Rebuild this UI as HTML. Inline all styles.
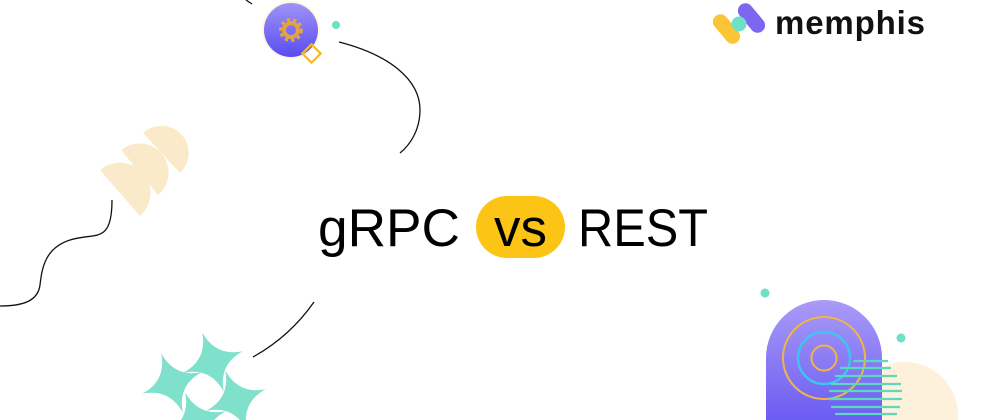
<!DOCTYPE html>
<html><head><style>
html,body{margin:0;padding:0;background:#fff;overflow:hidden;width:1000px;height:420px;}
svg{display:block}
</style></head><body>
<svg width="1000" height="420" viewBox="0 0 1000 420" xmlns="http://www.w3.org/2000/svg">
<defs>
<linearGradient id="pg" x1="0" y1="0" x2="0" y2="1"><stop offset="0" stop-color="#a99bf7"/><stop offset="1" stop-color="#6b5cf2"/></linearGradient>
<linearGradient id="cg" x1="0" y1="0" x2="0" y2="1"><stop offset="0" stop-color="#9f93f8"/><stop offset="1" stop-color="#5a4cf0"/></linearGradient>
<clipPath id="fr"><rect width="1000" height="420"/></clipPath>
<path id="st" d="M0 -30 Q4 -4 30 0 Q4 4 0 30 Q-4 4 -30 0 Q-4 -4 0 -30Z"/>
</defs>
<g clip-path="url(#fr)">
<g fill="none" stroke="#111" stroke-width="1.3">
<path d="M246 0 L252 4"/>
<path d="M339 42 C390 55 420 80 420 110 C420 130 410 145 400 153"/>
<path d="M112 200 C112 245 95 232 70 240 C45 248 42 268 40 285 C38 300 25 306 0 306"/>
<path d="M314 302 C300 322 280 342 253 357"/>
</g>
<circle cx="291" cy="30" r="29" fill="#fff6e0"/>
<circle cx="291" cy="30" r="27" fill="url(#cg)"/>
<circle cx="291" cy="30" r="9" fill="none" stroke="#e0a445" stroke-width="6" stroke-dasharray="3 2.5"/>
<circle cx="291" cy="30" r="7" fill="none" stroke="#e0a445" stroke-width="4"/>
<rect x="305" y="47" width="13" height="13" fill="none" stroke="#f5b92a" stroke-width="2.2" transform="rotate(45 311.5 53.5)"/>
<circle cx="336" cy="25" r="4" fill="#6ee0c8"/>
<g fill="#fbe6bd" opacity="0.8">
<path d="M143 133 A27 27 0 0 1 180 173 Z"/>
<path d="M121 150 A27 27 0 0 1 158 195 Z"/>
<path d="M100 170 A27 27 0 0 1 140 216 Z"/>
</g>
<g fill="#7fe0cb">
<use href="#st" transform="translate(213 362) rotate(-20) scale(1.05)"/>
<use href="#st" transform="translate(172 383) rotate(-20) scale(1.05)"/>
<use href="#st" transform="translate(236 400) rotate(-20) scale(1.05)"/>
<use href="#st" transform="translate(196 422) rotate(-20) scale(1.05)"/>
</g>
<text x="318" y="246" font-family="Liberation Sans, sans-serif" font-size="53" fill="#000" textLength="142" lengthAdjust="spacingAndGlyphs">gRPC</text>
<rect x="476" y="196" width="89" height="62" rx="31" fill="#fcc414"/>
<text x="520.5" y="246" text-anchor="middle" font-family="Liberation Sans, sans-serif" font-size="53" fill="#000">vs</text>
<text x="578" y="246" font-family="Liberation Sans, sans-serif" font-size="53" fill="#000" textLength="130" lengthAdjust="spacingAndGlyphs">REST</text>
<g>
<rect x="719" y="12" width="15" height="34" rx="7.5" fill="#fcc437" transform="rotate(-40 726.5 29)"/>
<rect x="744" y="1" width="15" height="34" rx="7.5" fill="#7b67f0" transform="rotate(-40 751.5 18)"/>
<circle cx="739" cy="24" r="7.5" fill="#6ee0c8"/>
<text x="775" y="34" font-family="Liberation Sans, sans-serif" font-weight="bold" font-size="33" fill="#111" textLength="150">memphis</text>
</g>
<circle cx="905" cy="415" r="53" fill="#fdf1db"/>
<path d="M766 420 L766 358 A58 58 0 0 1 882 358 L882 420 Z" fill="url(#pg)"/>
<circle cx="824" cy="358" r="41" fill="none" stroke="#f0b545" stroke-width="2"/>
<circle cx="824" cy="358" r="26" fill="none" stroke="#3fc3f0" stroke-width="2.5"/>
<circle cx="824" cy="358" r="12.5" fill="none" stroke="#f0b545" stroke-width="2"/>
<g stroke="#5bd9bf" stroke-width="2.2">
<line x1="853" y1="361" x2="888" y2="361"/>
<line x1="840" y1="368" x2="891" y2="368"/>
<line x1="835" y1="376" x2="897" y2="376"/>
<line x1="831" y1="384" x2="901" y2="384"/>
<line x1="829" y1="391" x2="902" y2="391"/>
<line x1="829" y1="399" x2="902" y2="399"/>
<line x1="831" y1="407" x2="900" y2="407"/>
<line x1="835" y1="414" x2="897" y2="414"/>
</g>
<circle cx="765" cy="293" r="4.5" fill="#6ee0c8"/>
<circle cx="901" cy="338" r="4.5" fill="#6ee0c8"/>
</g>
</svg>
</body></html>
